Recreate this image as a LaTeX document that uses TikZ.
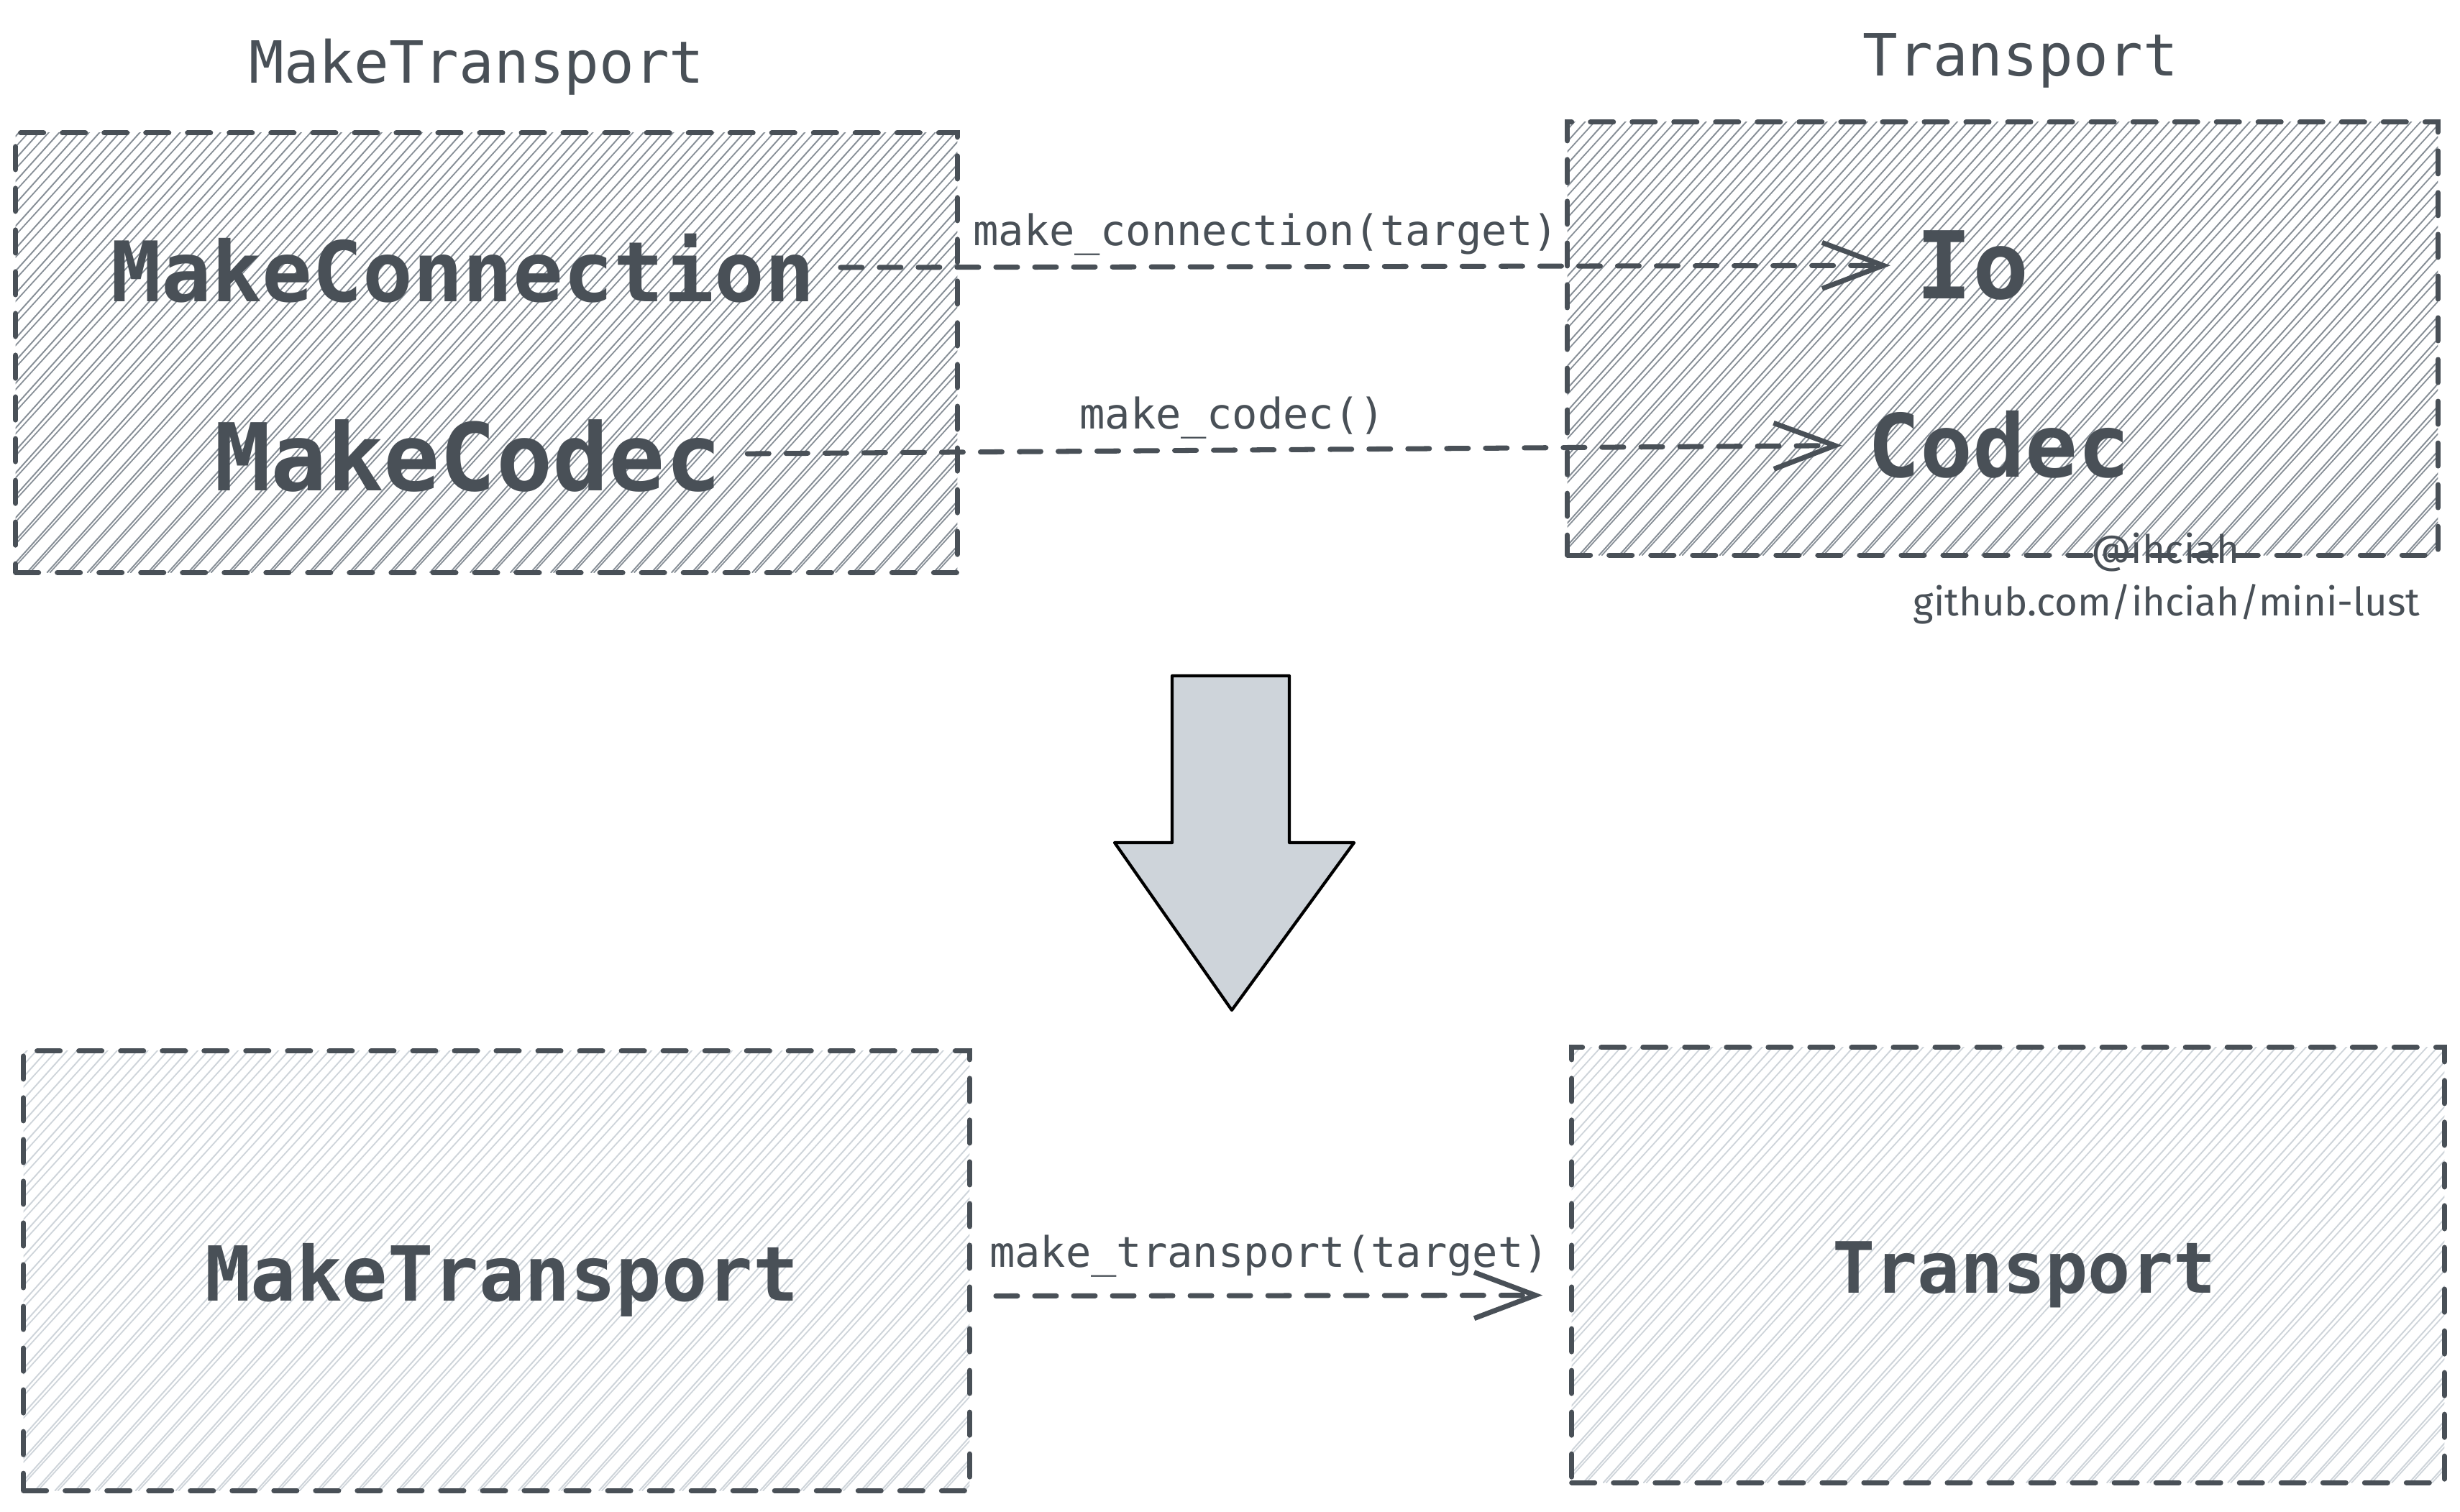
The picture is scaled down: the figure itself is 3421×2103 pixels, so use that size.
\documentclass[tikz,border=0pt]{standalone}
\usepackage{fontspec}
\setmonofont{DejaVu Sans Mono}
\newfontfamily\handfont{Fira Sans}
\usetikzlibrary{arrows.meta}
\definecolor{ink}{HTML}{495057}
\definecolor{hatchdark}{HTML}{868E96}
\definecolor{hatchlight}{HTML}{CED4DA}
\definecolor{slab}{HTML}{CED4DA}

\begin{document}
\begin{tikzpicture}[
    x=0.01cm, y=-0.01cm,
    hbox/.style={draw=ink, line width=2pt, dash pattern=on 0.32cm off 0.26cm, line cap=round, inner sep=0pt,
      path picture={
        \foreach \k in {0,...,72} {
          \draw[solid, #1, line width=0.55pt]
            ([xshift=\k*0.28cm-6cm]path picture bounding box.south west) -- ++(7cm,7.8cm);
          \draw[solid, #1, line width=0.5pt]
            ([xshift=\k*0.28cm-5.96cm]path picture bounding box.south west) -- ++(7.12cm,7.8cm);
        }}},
    bigtxt/.style={font=\ttfamily\bfseries\fontsize{#1}{#1}\selectfont, text=ink, inner sep=0.35cm},
    ttl/.style={font=\ttfamily\fontsize{23pt}{23pt}\selectfont, text=ink},
    lbl/.style={font=\ttfamily\fontsize{16.7pt}{16.7pt}\selectfont, text=ink},
    hand/.style={font=\handfont\fontsize{15.5pt}{15.5pt}\selectfont, text=ink},
    flow/.style={draw=ink, line width=2pt, dash pattern=on 0.3cm off 0.24cm, line cap=round,
      -{Straight Barb[length=0.85cm, width=0.64cm, line width=2pt]}},
    bigarrow/.style={fill=slab, draw=black, line width=1.2pt, line join=round}
]
\fill[white] (0,0) rectangle (3421,2103);
\useasboundingbox (0,0) rectangle (3421,2103);

% before
\node[hbox=hatchdark, minimum width=13.09cm, minimum height=6.11cm] (mkbox) at (676.5,490.5) {};
\node[hbox=hatchdark, minimum width=12.10cm, minimum height=6.02cm] (trbox) at (2785,471) {};
\node[ttl] (mkttl) at (663,93) {MakeTransport};
\node[ttl] (trttl) at (2810,84) {Transport};

\node[bigtxt=33pt] (mconn) at (644,373) {MakeConnection};
\node[bigtxt=37pt] (mcodec) at (651,634) {MakeCodec};
\node[bigtxt=37pt] (io) at (2743,369) {Io};
\node[bigtxt=34.5pt] (codec) at (2780,618) {Codec};

\draw[flow] (mconn) -- node[lbl, pos=.405, above] {make\_connection(target)} (io);
\draw[flow] (mcodec) -- node[lbl, pos=.443, above] {make\_codec()} (codec);

\node[hand] (handle) at (3011,768) {@ihciah};
\node[hand] (repo) at (3013,840) {github.com/ihciah/mini-lust};

% becomes
\draw[bigarrow] (1630,940) -- (1793,940) -- (1793,1172) -- (1883,1172) -- (1713,1405)
  -- (1550,1172) -- (1630,1172) -- cycle;

% after
\node[hbox=hatchlight, minimum width=13.15cm, minimum height=6.11cm] (mkbox2) at (690.5,1767.5) {};
\node[hbox=hatchlight, minimum width=12.13cm, minimum height=6.05cm] (trbox2) at (2792.5,1759.5) {};
\node[bigtxt=30pt] (mtr) at (698,1780) {MakeTransport};
\node[bigtxt=28pt] (tr) at (2815,1773) {Transport};

\draw[flow] ([xshift=0.33cm,yshift=-0.35cm]mkbox2.east) -- node[lbl, above=0.1cm] {make\_transport(target)}
  ([xshift=-0.37cm,yshift=-0.42cm]trbox2.west);
\end{tikzpicture}
\end{document}
